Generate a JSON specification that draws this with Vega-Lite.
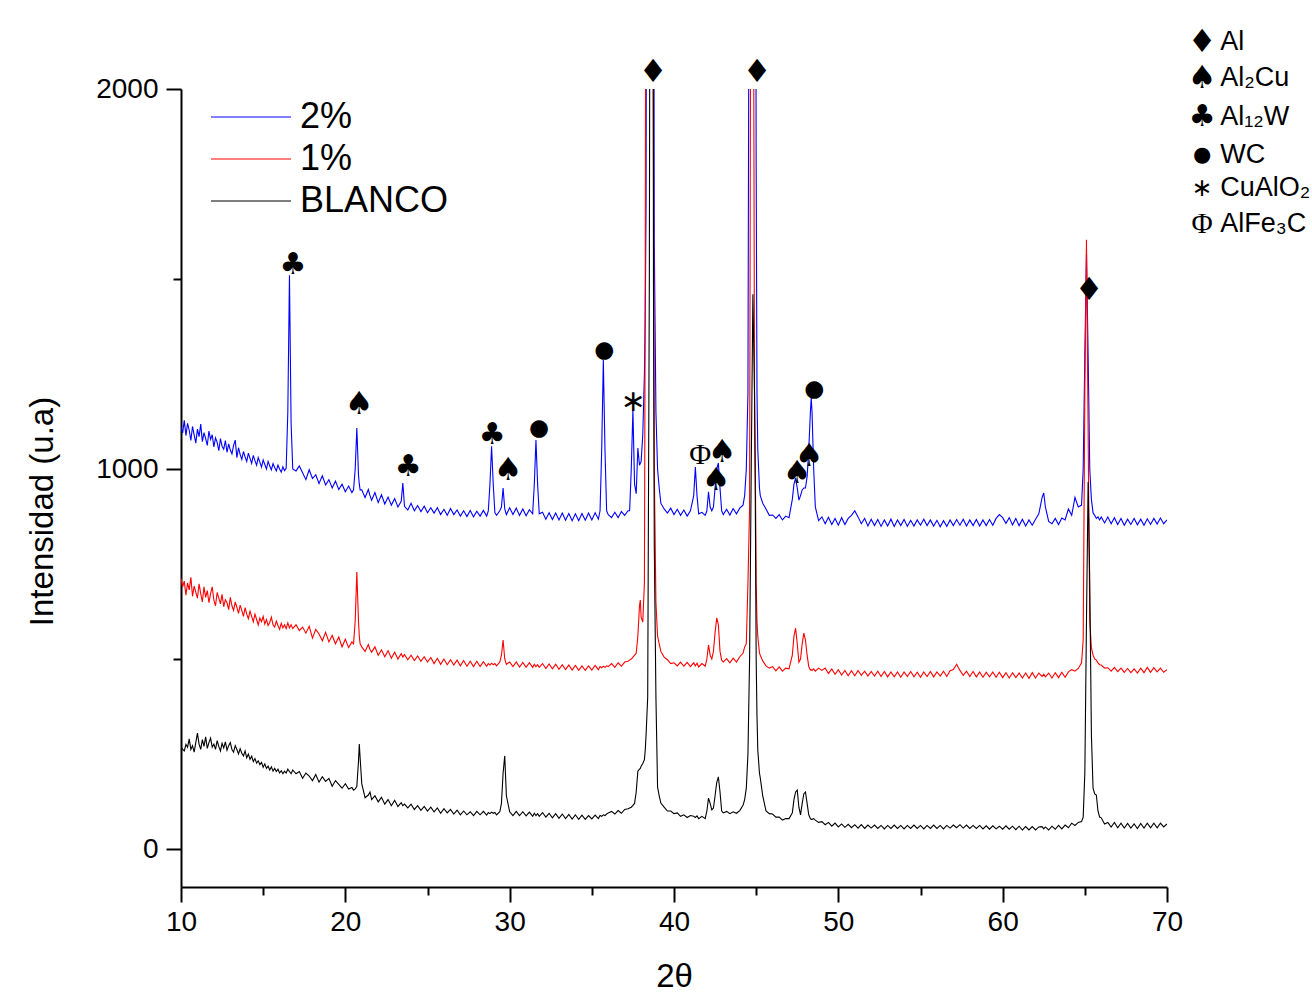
{
"$schema":"https://vega.github.io/schema/vega-lite/v6.json",
"width":986,"height":798,
"autosize":{"type":"none"},
"padding":{"left":181,"top":89,"right":145,"bottom":107},
"background":"white",
"config":{"view":{"stroke":null},"font":"Liberation Sans"},
"datasets":{
"refs":[{"x":20.65},{"x":29.58},{"x":38.55},{"x":42.12},{"x":42.75},{"x":44.82},{"x":47.45},{"x":48.03},{"x":65.07}],
"ann":[
{"x":16.82,"v":1537,"t":"♣"},{"x":20.83,"v":1171,"t":"♠"},{"x":23.82,"v":1005,"t":"♣"},{"x":28.93,"v":1089,"t":"♣"},
{"x":29.9,"v":997,"t":"♠"},{"x":31.79,"v":1108,"t":"●"},{"x":35.75,"v":1313,"t":"●"},{"x":37.51,"v":1176,"t":"∗"},
{"x":38.73,"v":2045,"t":"♦"},{"x":41.59,"v":1037,"t":"Φ"},{"x":42.93,"v":1045,"t":"♠"},{"x":42.56,"v":971,"t":"♠"},
{"x":45.06,"v":2045,"t":"♦"},{"x":47.49,"v":989,"t":"♠"},{"x":48.22,"v":1034,"t":"♠"},{"x":48.53,"v":1211,"t":"●"},
{"x":65.26,"v":1471,"t":"♦"}],
"key":[
{"x":72.14,"v":2124,"t":"♦","name":"Al"},{"x":72.14,"v":2029,"t":"♠","name":"Al₂Cu"},{"x":72.14,"v":1926,"t":"♣","name":"Al₁₂W"},
{"x":72.14,"v":1826,"t":"●","name":"WC"},{"x":72.14,"v":1739,"t":"∗","name":"CuAlO₂"},{"x":72.14,"v":1645,"t":"Φ","name":"AlFe₃C"}],
"xrd":[
{"x":10.0,"b":1110,"r":712,"k":270},{"x":10.1,"b":1095,"r":690,"k":262},{"x":10.2,"b":1128,"r":705,"k":258},{"x":10.3,"b":1088,"r":668,"k":275},
{"x":10.4,"b":1120,"r":700,"k":268},{"x":10.5,"b":1102,"r":682,"k":290},{"x":10.6,"b":1075,"r":715,"k":262},{"x":10.7,"b":1112,"r":665,"k":272},
{"x":10.8,"b":1090,"r":692,"k":255},{"x":10.9,"b":1068,"r":676,"k":280},{"x":11.0,"b":1105,"r":660,"k":305},{"x":11.1,"b":1085,"r":698,"k":276},
{"x":11.2,"b":1118,"r":672,"k":262},{"x":11.3,"b":1072,"r":650,"k":288},{"x":11.4,"b":1096,"r":690,"k":270},{"x":11.5,"b":1080,"r":662,"k":295},
{"x":11.6,"b":1062,"r":680,"k":265},{"x":11.7,"b":1100,"r":648,"k":280},{"x":11.8,"b":1078,"r":672,"k":292},{"x":11.9,"b":1090,"r":690,"k":268},
{"x":12.0,"b":1058,"r":655,"k":276},{"x":12.1,"b":1082,"r":640,"k":262},{"x":12.2,"b":1070,"r":675,"k":285},{"x":12.3,"b":1048,"r":660,"k":270},
{"x":12.4,"b":1080,"r":645,"k":258},{"x":12.5,"b":1060,"r":670,"k":278},{"x":12.6,"b":1052,"r":638,"k":266},{"x":12.7,"b":1075,"r":656,"k":282},
{"x":12.8,"b":1044,"r":648,"k":260},{"x":12.9,"b":1066,"r":630,"k":272},{"x":13.0,"b":1050,"r":662,"k":280},{"x":13.1,"b":1040,"r":640,"k":262},
{"x":13.2,"b":1062,"r":628,"k":255},{"x":13.3,"b":1076,"r":650,"k":272},{"x":13.4,"b":1030,"r":636,"k":262},{"x":13.5,"b":1056,"r":620,"k":250},
{"x":13.6,"b":1038,"r":642,"k":264},{"x":13.7,"b":1025,"r":628,"k":252},{"x":13.8,"b":1046,"r":612,"k":245},{"x":13.9,"b":1032,"r":635,"k":258},
{"x":14.0,"b":1020,"r":618,"k":240},{"x":14.1,"b":1042,"r":606,"k":250},{"x":14.2,"b":1028,"r":626,"k":236},{"x":14.3,"b":1015,"r":612,"k":244},
{"x":14.4,"b":1036,"r":598,"k":230},{"x":14.5,"b":1022,"r":618,"k":238},{"x":14.6,"b":1010,"r":604,"k":226},{"x":14.7,"b":1030,"r":590,"k":232},
{"x":14.8,"b":1018,"r":608,"k":222},{"x":14.9,"b":1005,"r":598,"k":228},{"x":15.0,"b":1024,"r":612,"k":215},{"x":15.1,"b":1012,"r":592,"k":224},
{"x":15.2,"b":1000,"r":604,"k":212},{"x":15.3,"b":1020,"r":588,"k":218},{"x":15.4,"b":1008,"r":596,"k":208},{"x":15.5,"b":998,"r":610,"k":216},
{"x":15.6,"b":1014,"r":590,"k":205},{"x":15.7,"b":1004,"r":584,"k":212},{"x":15.8,"b":995,"r":600,"k":204},{"x":15.9,"b":1010,"r":588,"k":210},
{"x":16.0,"b":1000,"r":578,"k":200},{"x":16.1,"b":992,"r":594,"k":206},{"x":16.2,"b":1006,"r":582,"k":198},{"x":16.3,"b":996,"r":590,"k":205},
{"x":16.4,"b":1002,"r":580,"k":200},{"x":16.5,"b":1150,"r":595,"k":210},{"x":16.6,"b":1510,"r":582,"k":204},{"x":16.7,"b":1120,"r":590,"k":198},
{"x":16.8,"b":1000,"r":580,"k":208},{"x":17.0,"b":995,"r":590,"k":198},{"x":17.2,"b":1008,"r":575,"k":204},{"x":17.4,"b":990,"r":584,"k":186},
{"x":17.6,"b":972,"r":568,"k":200},{"x":17.8,"b":998,"r":586,"k":192},{"x":18.0,"b":975,"r":555,"k":180},{"x":18.2,"b":985,"r":578,"k":196},
{"x":18.4,"b":962,"r":566,"k":176},{"x":18.6,"b":982,"r":548,"k":190},{"x":18.8,"b":958,"r":570,"k":178},{"x":19.0,"b":972,"r":545,"k":186},
{"x":19.2,"b":950,"r":562,"k":165},{"x":19.4,"b":968,"r":540,"k":180},{"x":19.6,"b":946,"r":558,"k":170},{"x":19.8,"b":960,"r":532,"k":160},
{"x":20.0,"b":940,"r":552,"k":172},{"x":20.2,"b":955,"r":530,"k":158},{"x":20.4,"b":938,"r":545,"k":162},{"x":20.5,"b":945,"r":540,"k":155},
{"x":20.6,"b":1000,"r":600,"k":158},{"x":20.7,"b":1108,"r":729,"k":165},{"x":20.8,"b":985,"r":600,"k":230},{"x":20.85,"b":960,"r":560,"k":276},
{"x":20.9,"b":945,"r":540,"k":240},{"x":21.0,"b":945,"r":532,"k":172},{"x":21.2,"b":925,"r":520,"k":135},{"x":21.4,"b":946,"r":538,"k":142},
{"x":21.5,"b":930,"r":525,"k":150},{"x":21.6,"b":918,"r":518,"k":130},{"x":21.8,"b":938,"r":532,"k":140},{"x":22.0,"b":912,"r":510,"k":124},
{"x":22.2,"b":932,"r":524,"k":136},{"x":22.4,"b":908,"r":506,"k":118},{"x":22.6,"b":926,"r":522,"k":130},{"x":22.8,"b":905,"r":502,"k":114},
{"x":23.0,"b":922,"r":518,"k":128},{"x":23.2,"b":900,"r":500,"k":112},{"x":23.4,"b":915,"r":514,"k":122},{"x":23.5,"b":963,"r":505,"k":114},
{"x":23.6,"b":902,"r":512,"k":118},{"x":23.8,"b":892,"r":498,"k":108},{"x":24.0,"b":910,"r":510,"k":118},{"x":24.2,"b":890,"r":496,"k":104},
{"x":24.4,"b":904,"r":508,"k":114},{"x":24.6,"b":888,"r":494,"k":102},{"x":24.8,"b":902,"r":506,"k":112},{"x":25.0,"b":885,"r":492,"k":100},
{"x":25.2,"b":898,"r":504,"k":110},{"x":25.4,"b":884,"r":488,"k":98},{"x":25.6,"b":898,"r":502,"k":108},{"x":25.8,"b":880,"r":486,"k":94},
{"x":26.0,"b":894,"r":500,"k":106},{"x":26.2,"b":878,"r":485,"k":95},{"x":26.4,"b":896,"r":498,"k":104},{"x":26.6,"b":880,"r":484,"k":92},
{"x":26.8,"b":892,"r":497,"k":102},{"x":27.0,"b":876,"r":482,"k":90},{"x":27.2,"b":890,"r":496,"k":100},{"x":27.4,"b":875,"r":481,"k":90},
{"x":27.6,"b":891,"r":494,"k":98},{"x":27.8,"b":874,"r":480,"k":88},{"x":28.0,"b":889,"r":494,"k":99},{"x":28.2,"b":876,"r":480,"k":90},
{"x":28.4,"b":891,"r":493,"k":99},{"x":28.6,"b":876,"r":481,"k":89},{"x":28.7,"b":890,"r":488,"k":96},{"x":28.8,"b":960,"r":484,"k":93},
{"x":28.9,"b":1060,"r":489,"k":97},{"x":29.0,"b":960,"r":485,"k":94},{"x":29.1,"b":885,"r":488,"k":96},{"x":29.2,"b":878,"r":482,"k":90},
{"x":29.4,"b":890,"r":492,"k":98},{"x":29.5,"b":900,"r":510,"k":120},{"x":29.6,"b":950,"r":550,"k":200},{"x":29.7,"b":895,"r":500,"k":245},
{"x":29.8,"b":880,"r":486,"k":140},{"x":30.0,"b":898,"r":492,"k":98},{"x":30.2,"b":880,"r":480,"k":88},{"x":30.4,"b":897,"r":492,"k":99},
{"x":30.6,"b":878,"r":479,"k":88},{"x":30.8,"b":895,"r":491,"k":98},{"x":31.0,"b":877,"r":478,"k":87},{"x":31.2,"b":893,"r":490,"k":97},
{"x":31.4,"b":882,"r":478,"k":86},{"x":31.5,"b":960,"r":486,"k":94},{"x":31.6,"b":1076,"r":480,"k":88},{"x":31.7,"b":960,"r":485,"k":93},
{"x":31.8,"b":882,"r":478,"k":86},{"x":32.0,"b":886,"r":488,"k":96},{"x":32.2,"b":868,"r":475,"k":84},{"x":32.4,"b":885,"r":487,"k":94},
{"x":32.6,"b":867,"r":474,"k":82},{"x":32.8,"b":884,"r":486,"k":93},{"x":33.0,"b":866,"r":473,"k":81},{"x":33.2,"b":884,"r":485,"k":92},
{"x":33.4,"b":865,"r":472,"k":80},{"x":33.6,"b":883,"r":484,"k":91},{"x":33.8,"b":864,"r":471,"k":79},{"x":34.0,"b":882,"r":483,"k":90},
{"x":34.2,"b":864,"r":470,"k":78},{"x":34.4,"b":883,"r":482,"k":89},{"x":34.6,"b":865,"r":470,"k":78},{"x":34.8,"b":884,"r":482,"k":88},
{"x":35.0,"b":866,"r":471,"k":79},{"x":35.2,"b":885,"r":483,"k":89},{"x":35.4,"b":868,"r":472,"k":80},{"x":35.5,"b":890,"r":480,"k":88},
{"x":35.6,"b":1050,"r":477,"k":86},{"x":35.7,"b":1287,"r":481,"k":90},{"x":35.8,"b":1050,"r":478,"k":88},{"x":35.9,"b":890,"r":482,"k":92},
{"x":36.0,"b":880,"r":480,"k":95},{"x":36.2,"b":872,"r":488,"k":99},{"x":36.4,"b":886,"r":478,"k":92},{"x":36.6,"b":872,"r":490,"k":101},
{"x":36.8,"b":888,"r":481,"k":94},{"x":37.0,"b":878,"r":492,"k":104},{"x":37.2,"b":890,"r":494,"k":106},{"x":37.3,"b":890,"r":497,"k":108},
{"x":37.4,"b":1000,"r":500,"k":110},{"x":37.5,"b":1155,"r":505,"k":115},{"x":37.6,"b":960,"r":510,"k":120},{"x":37.7,"b":935,"r":515,"k":150},
{"x":37.8,"b":1055,"r":560,"k":205},{"x":37.9,"b":1010,"r":640,"k":210},{"x":37.95,"b":1015,"r":655,"k":212},{"x":38.0,"b":1020,"r":610,"k":218},
{"x":38.1,"b":1090,"r":597,"k":225},{"x":38.2,"b":1250,"r":700,"k":235},{"x":38.25,"b":1400,"r":1500,"k":260},{"x":38.3,"b":1700,"r":3000,"k":300},
{"x":38.35,"b":3000,"r":4000,"k":350},{"x":38.4,"b":5000,"r":5000,"k":400},{"x":38.5,"b":8000,"r":6000,"k":1500},{"x":38.6,"b":7000,"r":5000,"k":4000},
{"x":38.7,"b":4000,"r":2500,"k":4000},{"x":38.75,"b":3000,"r":1800,"k":1500},{"x":38.8,"b":1600,"r":1000,"k":800},{"x":38.9,"b":1150,"r":650,"k":400},
{"x":39.0,"b":1000,"r":560,"k":163},{"x":39.1,"b":950,"r":540,"k":140},{"x":39.2,"b":910,"r":520,"k":121},{"x":39.4,"b":895,"r":505,"k":110},
{"x":39.6,"b":884,"r":498,"k":100},{"x":39.8,"b":897,"r":488,"k":100},{"x":40.0,"b":880,"r":490,"k":93},{"x":40.2,"b":894,"r":482,"k":95},
{"x":40.4,"b":878,"r":492,"k":86},{"x":40.6,"b":892,"r":481,"k":90},{"x":40.8,"b":876,"r":491,"k":83},{"x":41.0,"b":890,"r":480,"k":88},
{"x":41.2,"b":930,"r":490,"k":86},{"x":41.3,"b":1005,"r":482,"k":83},{"x":41.4,"b":930,"r":489,"k":87},{"x":41.5,"b":882,"r":479,"k":80},
{"x":41.7,"b":886,"r":488,"k":86},{"x":41.9,"b":878,"r":481,"k":80},{"x":42.0,"b":890,"r":500,"k":100},{"x":42.1,"b":940,"r":537,"k":134},
{"x":42.2,"b":900,"r":510,"k":120},{"x":42.3,"b":890,"r":500,"k":103},{"x":42.4,"b":900,"r":520,"k":108},{"x":42.5,"b":950,"r":570,"k":140},
{"x":42.6,"b":1000,"r":608,"k":175},{"x":42.7,"b":1016,"r":590,"k":190},{"x":42.8,"b":950,"r":520,"k":150},{"x":42.9,"b":890,"r":497,"k":100},
{"x":43.0,"b":880,"r":492,"k":95},{"x":43.2,"b":894,"r":501,"k":99},{"x":43.4,"b":879,"r":490,"k":93},{"x":43.6,"b":896,"r":502,"k":98},
{"x":43.8,"b":882,"r":492,"k":94},{"x":44.0,"b":897,"r":506,"k":101},{"x":44.2,"b":905,"r":515,"k":115},{"x":44.3,"b":930,"r":532,"k":130},
{"x":44.4,"b":1000,"r":540,"k":160},{"x":44.5,"b":1200,"r":700,"k":250},{"x":44.6,"b":3000,"r":900,"k":500},{"x":44.7,"b":5000,"r":3000,"k":1000},
{"x":44.8,"b":6000,"r":3000,"k":1460},{"x":44.9,"b":4000,"r":1200,"k":1200},{"x":44.95,"b":3000,"r":1000,"k":900},{"x":45.0,"b":1800,"r":700,"k":500},
{"x":45.05,"b":1200,"r":600,"k":350},{"x":45.1,"b":1050,"r":560,"k":260},{"x":45.2,"b":950,"r":516,"k":200},{"x":45.25,"b":930,"r":510,"k":187},
{"x":45.4,"b":910,"r":495,"k":140},{"x":45.6,"b":895,"r":482,"k":100},{"x":45.8,"b":878,"r":476,"k":93},{"x":46.0,"b":879,"r":480,"k":92},
{"x":46.2,"b":870,"r":469,"k":84},{"x":46.4,"b":880,"r":479,"k":84},{"x":46.6,"b":866,"r":468,"k":76},{"x":46.8,"b":876,"r":476,"k":80},
{"x":47.0,"b":872,"r":474,"k":80},{"x":47.2,"b":920,"r":510,"k":95},{"x":47.3,"b":960,"r":560,"k":130},{"x":47.4,"b":976,"r":581,"k":150},
{"x":47.5,"b":950,"r":540,"k":155},{"x":47.6,"b":918,"r":492,"k":110},{"x":47.7,"b":930,"r":500,"k":90},{"x":47.8,"b":945,"r":540,"k":120},
{"x":47.9,"b":950,"r":568,"k":145},{"x":48.0,"b":950,"r":550,"k":150},{"x":48.1,"b":980,"r":510,"k":120},{"x":48.2,"b":1050,"r":480,"k":90},
{"x":48.3,"b":1150,"r":471,"k":80},{"x":48.35,"b":1187,"r":472,"k":78},{"x":48.4,"b":1150,"r":470,"k":78},{"x":48.5,"b":1000,"r":474,"k":80},
{"x":48.6,"b":900,"r":468,"k":76},{"x":48.8,"b":864,"r":476,"k":70},{"x":49.0,"b":874,"r":470,"k":72},{"x":49.2,"b":856,"r":476,"k":64},
{"x":49.4,"b":873,"r":462,"k":70},{"x":49.6,"b":854,"r":474,"k":60},{"x":49.8,"b":870,"r":460,"k":68},{"x":50.0,"b":852,"r":472,"k":58},
{"x":50.2,"b":872,"r":458,"k":66},{"x":50.4,"b":854,"r":470,"k":57},{"x":50.6,"b":870,"r":456,"k":65},{"x":50.8,"b":878,"r":469,"k":56},
{"x":51.0,"b":890,"r":456,"k":64},{"x":51.2,"b":874,"r":470,"k":55},{"x":51.4,"b":856,"r":457,"k":64},{"x":51.6,"b":870,"r":468,"k":54},
{"x":51.8,"b":850,"r":455,"k":63},{"x":52.0,"b":868,"r":467,"k":55},{"x":52.2,"b":851,"r":455,"k":63},{"x":52.4,"b":867,"r":468,"k":54},
{"x":52.6,"b":849,"r":454,"k":62},{"x":52.8,"b":866,"r":467,"k":53},{"x":53.0,"b":850,"r":453,"k":62},{"x":53.2,"b":868,"r":466,"k":54},
{"x":53.4,"b":849,"r":453,"k":63},{"x":53.6,"b":866,"r":466,"k":54},{"x":53.8,"b":851,"r":452,"k":62},{"x":54.0,"b":867,"r":466,"k":53},
{"x":54.2,"b":849,"r":454,"k":62},{"x":54.4,"b":865,"r":467,"k":54},{"x":54.6,"b":850,"r":453,"k":63},{"x":54.8,"b":866,"r":465,"k":54},
{"x":55.0,"b":852,"r":452,"k":62},{"x":55.2,"b":868,"r":466,"k":53},{"x":55.4,"b":851,"r":454,"k":62},{"x":55.6,"b":866,"r":467,"k":54},
{"x":55.8,"b":850,"r":453,"k":63},{"x":56.0,"b":865,"r":466,"k":54},{"x":56.2,"b":848,"r":455,"k":62},{"x":56.4,"b":864,"r":468,"k":53},
{"x":56.6,"b":849,"r":454,"k":62},{"x":56.8,"b":866,"r":469,"k":55},{"x":57.0,"b":851,"r":472,"k":63},{"x":57.2,"b":867,"r":486,"k":56},
{"x":57.4,"b":852,"r":470,"k":64},{"x":57.6,"b":868,"r":457,"k":55},{"x":57.8,"b":850,"r":468,"k":63},{"x":58.0,"b":866,"r":454,"k":54},
{"x":58.2,"b":851,"r":467,"k":62},{"x":58.4,"b":867,"r":453,"k":54},{"x":58.6,"b":850,"r":466,"k":62},{"x":58.8,"b":866,"r":452,"k":53},
{"x":59.0,"b":851,"r":465,"k":61},{"x":59.2,"b":867,"r":453,"k":52},{"x":59.4,"b":852,"r":466,"k":61},{"x":59.6,"b":870,"r":452,"k":53},
{"x":59.8,"b":880,"r":465,"k":60},{"x":60.0,"b":872,"r":451,"k":52},{"x":60.2,"b":857,"r":464,"k":61},{"x":60.4,"b":872,"r":450,"k":52},
{"x":60.6,"b":853,"r":464,"k":60},{"x":60.8,"b":870,"r":451,"k":51},{"x":61.0,"b":851,"r":463,"k":60},{"x":61.2,"b":868,"r":450,"k":50},
{"x":61.4,"b":850,"r":463,"k":59},{"x":61.6,"b":866,"r":449,"k":50},{"x":61.8,"b":852,"r":464,"k":59},{"x":62.0,"b":868,"r":450,"k":50},
{"x":62.2,"b":882,"r":463,"k":58},{"x":62.4,"b":925,"r":454,"k":59},{"x":62.5,"b":937,"r":460,"k":53},{"x":62.6,"b":900,"r":453,"k":58},
{"x":62.8,"b":862,"r":463,"k":50},{"x":63.0,"b":856,"r":450,"k":60},{"x":63.2,"b":870,"r":464,"k":52},{"x":63.4,"b":854,"r":451,"k":62},
{"x":63.6,"b":871,"r":465,"k":53},{"x":63.8,"b":866,"r":452,"k":63},{"x":64.0,"b":895,"r":466,"k":56},{"x":64.2,"b":878,"r":472,"k":68},
{"x":64.4,"b":925,"r":468,"k":62},{"x":64.6,"b":900,"r":475,"k":70},{"x":64.8,"b":905,"r":490,"k":72},{"x":64.9,"b":1000,"r":550,"k":84},
{"x":65.0,"b":1300,"r":1200,"k":200},{"x":65.1,"b":1568,"r":1603,"k":600},{"x":65.2,"b":1300,"r":1100,"k":966},{"x":65.3,"b":1000,"r":600,"k":700},
{"x":65.4,"b":920,"r":530,"k":300},{"x":65.5,"b":885,"r":510,"k":160},{"x":65.6,"b":878,"r":500,"k":145},{"x":65.7,"b":870,"r":497,"k":142},
{"x":65.8,"b":874,"r":490,"k":100},{"x":65.9,"b":866,"r":485,"k":84},{"x":66.0,"b":874,"r":484,"k":82},{"x":66.2,"b":858,"r":476,"k":66},
{"x":66.4,"b":874,"r":477,"k":70},{"x":66.6,"b":856,"r":468,"k":58},{"x":66.8,"b":872,"r":478,"k":70},{"x":67.0,"b":854,"r":467,"k":56},
{"x":67.2,"b":870,"r":476,"k":68},{"x":67.4,"b":852,"r":465,"k":55},{"x":67.6,"b":868,"r":475,"k":67},{"x":67.8,"b":854,"r":464,"k":55},
{"x":68.0,"b":870,"r":474,"k":66},{"x":68.2,"b":853,"r":463,"k":54},{"x":68.4,"b":868,"r":476,"k":67},{"x":68.6,"b":852,"r":464,"k":55},
{"x":68.8,"b":869,"r":478,"k":68},{"x":69.0,"b":854,"r":465,"k":56},{"x":69.2,"b":870,"r":477,"k":68},{"x":69.4,"b":855,"r":466,"k":56},
{"x":69.6,"b":871,"r":476,"k":68},{"x":69.8,"b":856,"r":465,"k":58},{"x":70.0,"b":866,"r":472,"k":66}
]},
"encoding":{
"x":{"field":"x","type":"quantitative","scale":{"domain":[10,70],"nice":false,"zero":false},
"axis":{"values":[10,15,20,25,30,35,40,45,50,55,60,65,70],"labelExpr":"datum.value % 10 === 0 ? datum.label : ''",
"tickSize":{"condition":{"test":"datum.value % 10 === 0","value":15},"value":8},
"grid":false,"domainColor":"#000","domainWidth":2,"tickColor":"#000","tickWidth":2,"labelFontSize":28,"labelColor":"#000",
"labelPadding":6,"labelFlush":false,"labelOverlap":false,"title":"2θ","titleFontSize":33,"titleFontWeight":"normal","titleColor":"#000","titlePadding":24}},
"y":{"field":"v","type":"quantitative","scale":{"domain":[-100,2000],"nice":false,"zero":false},
"axis":{"values":[0,500,1000,1500,2000],"format":"d","labelExpr":"datum.value % 1000 === 0 ? datum.label : ''",
"tickSize":{"condition":{"test":"datum.value % 1000 === 0","value":15},"value":8},
"grid":false,"domainColor":"#000","domainWidth":2,"tickColor":"#000","tickWidth":2,"labelFontSize":28,"labelColor":"#000",
"labelPadding":8,"labelOverlap":false,"title":"Intensidad (u.a)","titleFontSize":33,"titleFontWeight":"normal","titleColor":"#000","titlePadding":36,"titleY":422}}
},
"layer":[
{"data":{"name":"refs"},"mark":{"type":"rule","color":"#c4c4c4","strokeWidth":1.2},
"encoding":{"y":{"datum":1975,"type":"quantitative","scale":{"domain":[-100,2000],"nice":false,"zero":false},
"axis":{"values":[0,500,1000,1500,2000],"format":"d","labelExpr":"datum.value % 1000 === 0 ? datum.label : ''",
"tickSize":{"condition":{"test":"datum.value % 1000 === 0","value":15},"value":8},
"grid":false,"domainColor":"#000","domainWidth":2,"tickColor":"#000","tickWidth":2,"labelFontSize":28,"labelColor":"#000",
"labelPadding":8,"labelOverlap":false,"title":"Intensidad (u.a)","titleFontSize":33,"titleFontWeight":"normal","titleColor":"#000","titlePadding":36,"titleY":422}},
"y2":{"datum":-100}}},
{"data":{"name":"xrd"},"transform":[{"fold":["b","r","k"],"as":["serie","v"]}],
"mark":{"type":"line","clip":true,"strokeWidth":1.1},
"encoding":{
"color":{"field":"serie","type":"nominal","scale":{"domain":["b","r","k"],"range":["#0000ff","#ff0000","#000000"]},
"legend":{"orient":"none","legendX":9,"legendY":7,"title":null,"padding":0,"rowPadding":3,
"symbolType":"M-2,0H2","symbolSize":1600,"symbolStrokeWidth":1.2,"symbolOffset":40,"labelOffset":28,
"labelFontSize":36,"labelColor":"#000","labelLimit":400,
"labelExpr":"datum.label == 'b' ? '2%' : (datum.label == 'r' ? '1%' : 'BLANCO')"}}}},
{"data":{"name":"ann"},"transform":[{"filter":"datum.t !== 'Φ'"}],
"mark":{"type":"text","font":"DejaVu Sans","baseline":"middle","align":"center","color":"#000"},
"encoding":{"text":{"field":"t"},
"size":{"condition":[{"test":"datum.t === '●'","value":23},{"test":"datum.t === '∗'","value":30},{"test":"datum.t === '♣'","value":30}],"value":32}}},
{"data":{"name":"ann"},"transform":[{"filter":"datum.t === 'Φ'"}],
"mark":{"type":"text","font":"Liberation Serif","fontSize":30,"baseline":"middle","align":"center","color":"#000"},
"encoding":{"text":{"field":"t"}}},
{"data":{"name":"key"},"transform":[{"filter":"datum.t !== 'Φ'"}],
"mark":{"type":"text","font":"DejaVu Sans","baseline":"middle","align":"center","color":"#000"},
"encoding":{"text":{"field":"t"},
"size":{"condition":[{"test":"datum.t === '●'","value":21},{"test":"datum.t === '∗'","value":25},{"test":"datum.t === '♣'","value":30}],"value":32}}},
{"data":{"name":"key"},"transform":[{"filter":"datum.t === 'Φ'"}],
"mark":{"type":"text","font":"Liberation Serif","fontSize":29,"baseline":"middle","align":"center","color":"#000"},
"encoding":{"text":{"field":"t"}}},
{"data":{"name":"key"},"mark":{"type":"text","font":"Liberation Sans","fontSize":27,"baseline":"middle","align":"left","dx":18,"color":"#000"},
"encoding":{"text":{"field":"name"}}}
]
}
